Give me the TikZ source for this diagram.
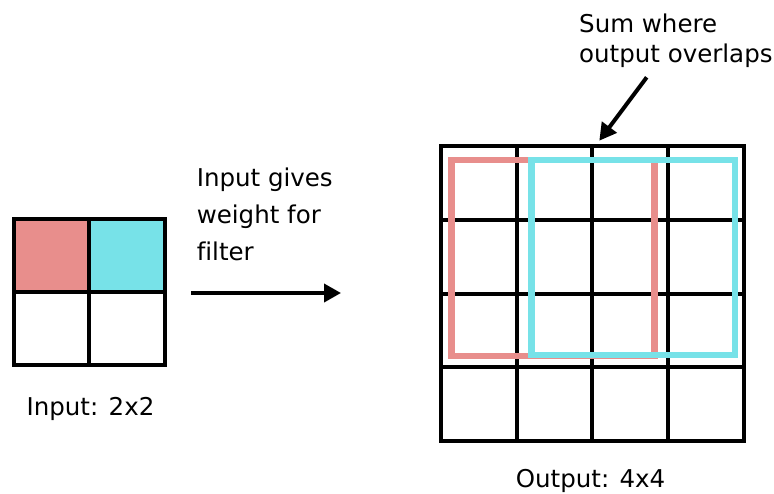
\documentclass[tikz,border=0pt]{standalone}
\usepackage{fontspec}
\setmainfont{DejaVu Sans}[Ligatures=NoCommon]
\usetikzlibrary{arrows.meta}
\definecolor{pinkc}{RGB}{232,142,140}
\definecolor{cyanc}{RGB}{119,226,232}
\begin{document}
\begin{tikzpicture}[x=1pt,y=-1pt,
  gridline/.style={line width=4pt,black,line cap=square},
  overlay/.style={line width=6.5pt},
  lbl/.style={inner sep=0pt,anchor=base west,font=\fontsize{24.5}{37}\selectfont,align=left},
  arr/.style={line width=3.8pt,-{Triangle[length=17pt,width=18pt]}}]
\useasboundingbox (0,0) rectangle (774,493);
% input grid
\fill[pinkc] (13.7,218.5) rectangle (89.3,291.7);
\fill[cyanc] (89.3,218.5) rectangle (164.5,291.7);
\draw[gridline] (13.7,218.5) rectangle (164.5,365.3);
\draw[gridline] (89.3,218.5) -- (89.3,365.3);
\draw[gridline] (13.7,291.7) -- (164.5,291.7);
% output grid
\draw[gridline] (441,146.3) rectangle (743.7,441);
\foreach \x in {516.5,592.2,668.2} \draw[gridline] (\x,146.3) -- (\x,441);
\foreach \y in {220,294,367.3} \draw[gridline] (441,\y) -- (743.7,\y);
\draw[overlay,pinkc] (451.3,160) rectangle (654.3,356);
\draw[overlay,cyanc] (531.7,160) rectangle (735,355);
% labels
\node[lbl] (inlabel) at (26.4,415) {Input: 2x2};
\node[lbl] (outlabel) at (515.7,487) {Output: 4x4};
\node[lbl] (weight) at (196.6,260) {Input gives\\weight for\\filter};
\node[lbl,font=\fontsize{24.5}{30}\selectfont] (sum) at (579,62) {Sum where\\output overlaps};
% arrows
\coordinate (a1s) at (191,293);
\coordinate (a1e) at (341,293);
\draw[arr] (a1s) -- (a1e);
\coordinate (a2s) at (646.7,77.3);
\coordinate (a2e) at (599.3,140.7);
\draw[arr,line width=4pt] (a2s) -- (a2e);
\end{tikzpicture}
\end{document}
